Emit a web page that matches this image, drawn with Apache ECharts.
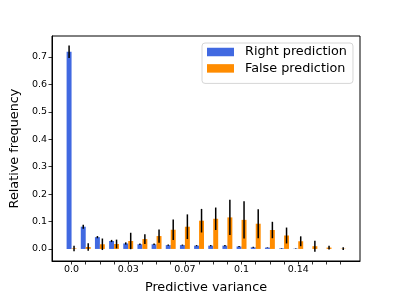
<!DOCTYPE html>
<html>
<head>
<meta charset="utf-8">
<script src="https://cdn.jsdelivr.net/npm/echarts@6/dist/echarts.min.js"></script>
<style>
html,body{margin:0;padding:0;background:#fff;}
#chart{width:399px;height:299px;}
</style>
</head>
<body>
<div id="chart"></div>
<script>
// bin index (position of each histogram group)
const binIndex = [0,1,2,3,4,5,6,7,8,9,10,11,12,13,14,15,16,17,18,19];
// tick labels shown under the bins
const tickLabels = ['0.0','','','','0.03','','','','0.07','','','','0.1','','','','0.14','','',''];
const labeledBins = [0,4,8,12,16];
const yTicks = [0.0,0.1,0.2,0.3,0.4,0.5,0.6,0.7];

const rightFreq = [0.719,0.081,0.043,0.029,0.020,0.017,0.017,0.014,0.014,0.012,0.012,0.012,0.009,0.006,0.005,0.002,0.001,0,0,0];
const rightErr  = [0.023,0.007,0.004,0.004,0.004,0.003,0.003,0.002,0.002,0.002,0.002,0.002,0.002,0.002,0.001,0.001,0.001,0,0,0];
const falseFreq = [0.002,0.007,0.017,0.018,0.029,0.036,0.047,0.070,0.081,0.103,0.110,0.115,0.106,0.092,0.069,0.049,0.028,0.010,0.005,0.001];
const falseErr  = [0.010,0.014,0.021,0.016,0.030,0.018,0.024,0.037,0.045,0.043,0.041,0.064,0.068,0.053,0.030,0.029,0.018,0.020,0.007,0.005];

const BLUE = '#4169E1', ORANGE = '#FF8C00';
const FONT = 'DejaVu Sans';
const BAR_W = 0.35; // bar width in bin units

function barSeries(name, color, vals, side) {
  return {
    name: name,
    type: 'custom',
    z: 2,
    itemStyle: {color: color},
    data: binIndex.map((b, i) => [b, vals[i]]),
    renderItem: function (params, api) {
      const x = api.value(0);
      const v = api.value(1);
      const x0 = side < 0 ? x - BAR_W : x;
      const p0 = api.coord([x0, 0]);
      const p1 = api.coord([x0 + BAR_W, v]);
      return {
        type: 'rect',
        shape: {x: p0[0], y: p1[1], width: p1[0] - p0[0], height: p0[1] - p1[1]},
        style: {fill: color}
      };
    }
  };
}

function errSeries(vals, errs, side) {
  return {
    type: 'custom',
    z: 5,
    silent: true,
    clip: false,
    data: binIndex.map((b, i) => [b, vals[i], errs[i]]),
    renderItem: function (params, api) {
      const x = api.value(0) + side * BAR_W / 2;
      const v = api.value(1), e = api.value(2);
      const p1 = api.coord([x, v - e]);
      const p2 = api.coord([x, v + e]);
      return {
        type: 'line',
        shape: {x1: p1[0], y1: p1[1], x2: p2[0], y2: p2[1]},
        style: {stroke: '#000', lineWidth: 1.5}
      };
    }
  };
}

const chart = echarts.init(document.getElementById('chart'), null, {renderer: 'canvas'});
chart.setOption({
  animation: false,
  backgroundColor: '#fff',
  textStyle: {fontFamily: FONT},
  grid: {left: 50, top: 36, width: 310, height: 229, show: true, borderColor: '#000', borderWidth: 1, backgroundColor: '#fff'},
  legend: {
    data: ['Right prediction', 'False prediction'],
    orient: 'vertical',
    left: 202,
    top: 43,
    padding: [2, 6, 8, 5],
    itemGap: 2.4,
    itemWidth: 27,
    itemHeight: 8.5,
    icon: 'rect',
    backgroundColor: '#fff',
    borderColor: '#d6d6d6',
    borderWidth: 1,
    borderRadius: 3,
    textStyle: {fontFamily: FONT, fontSize: 12.8, color: '#000', lineHeight: 14, padding: [0, 0, 0, 6]}
  },
  xAxis: {
    type: 'value',
    min: -1.38,
    max: 20.36,
    name: 'Predictive variance',
    nameLocation: 'middle',
    nameGap: 20,
    nameTextStyle: {fontFamily: FONT, fontSize: 12.8, color: '#000'},
    axisLine: {show: true, onZero: false, lineStyle: {color: '#000', width: 1}},
    axisTick: {show: true, length: 3.5, lineStyle: {color: '#000', width: 0.8}, customValues: binIndex},
    axisLabel: {show: true, customValues: labeledBins, fontFamily: FONT, fontSize: 9.5, color: '#000', margin: 4,
      formatter: function (v) { return tickLabels[Math.round(v)] || ''; }},
    splitLine: {show: false}
  },
  yAxis: {
    type: 'value',
    min: -0.044,
    max: 0.7766,
    name: 'Relative frequency',
    nameLocation: 'middle',
    nameGap: 30,
    nameRotate: 90,
    nameTextStyle: {fontFamily: FONT, fontSize: 12.8, color: '#000'},
    axisLine: {show: true, onZero: false, lineStyle: {color: '#000', width: 1}},
    axisTick: {show: true, length: 3.5, lineStyle: {color: '#000', width: 0.8}, customValues: yTicks},
    axisLabel: {show: true, customValues: yTicks, fontFamily: FONT, fontSize: 9.5, color: '#000', margin: 5,
      formatter: function (v) { return v.toFixed(1); }},
    splitLine: {show: false}
  },
  series: [
    barSeries('Right prediction', BLUE, rightFreq, -1),
    barSeries('False prediction', ORANGE, falseFreq, 1),
    errSeries(rightFreq, rightErr, -1),
    errSeries(falseFreq, falseErr, 1)
  ]
});
</script>
</body>
</html>
